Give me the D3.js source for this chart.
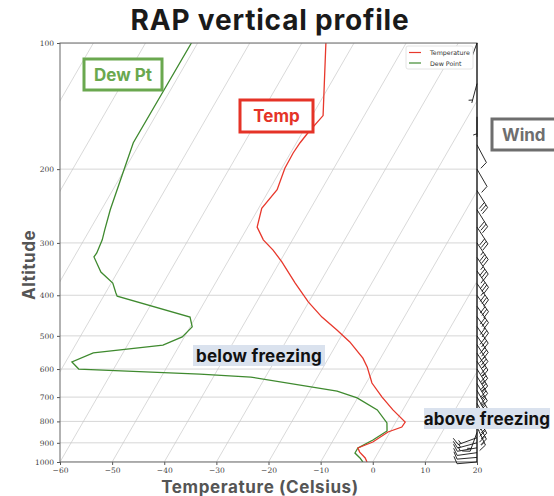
<!DOCTYPE html>
<html>
<head>
<meta charset="utf-8">
<script src="https://cdn.jsdelivr.net/npm/d3@7"></script>
<style>
  body { margin: 0; background: #fff; }
  svg { display: block; }
</style>
</head>
<body>
<svg width="554" height="496"></svg>
<script>
// sounding values (pressure in hPa, temperature in C)
const tempP = [100, 149, 164, 173, 183, 199, 224, 248, 275, 295, 312, 333, 374, 415, 451, 484, 517, 565, 593, 627, 648, 700, 751, 803, 825, 848, 896, 926, 947, 978, 1000];
const tempC = [-55.4, -47.9, -48.9, -49.3, -49.5, -49.4, -48.5, -49.4, -48.2, -45.6, -42.6, -39.6, -34.7, -30.1, -25.8, -21.5, -17.7, -13.4, -11.6, -9.9, -8.9, -5.4, -1.9, 1.8, 1.7, -0.4, -2.2, -4.4, -3.6, -1.9, -1.1];

const dewP = [100, 173, 198, 250, 280, 295, 317, 324, 352, 374, 395, 402, 451, 476, 503, 526, 549, 577, 600, 617, 627, 677, 703, 751, 807, 843, 886, 926, 952, 978, 1000];
const dewC = [-81.2, -81.3, -80.2, -78.3, -77.1, -76.5, -76.1, -76.2, -73.2, -69.7, -68.0, -67.4, -51.1, -49.6, -50.4, -53.2, -65.7, -68.8, -66.7, -42.9, -32.8, -14.7, -10.1, -4.9, -1.6, -0.7, -2.4, -4.4, -4.4, -2.9, -1.9];

// wind barbs: direction the wind comes from (deg) and speed (kt)
const windP = [100, 125, 150, 175, 200, 225, 250, 275, 300, 325, 350, 375, 400, 425, 450, 475, 500, 525, 550, 575, 600, 625, 650, 675, 700, 725, 750, 775, 800, 825, 850, 875, 900, 925, 950, 975, 1000];
const windDir = [200, 195, 180, 152, 150, 148, 148, 147, 146, 146, 145, 145, 145, 145, 145, 146, 146, 147, 147, 148, 148, 148, 149, 150, 150, 150, 151, 151, 152, 155, 200, 250, 255, 260, 262, 265, 265];
const windSpd = [5, 5, 5, 10, 10, 30, 30, 30, 35, 35, 35, 35, 30, 30, 30, 30, 30, 30, 25, 25, 25, 25, 25, 25, 20, 20, 20, 20, 20, 15, 15, 15, 15, 15, 10, 10, 10];

const pressureTicks = [100, 200, 300, 400, 500, 600, 700, 800, 900, 1000];
const tempTicks = [-60, -50, -40, -30, -20, -10, 0, 10, 20];
const isotherms = d3.range(-140, 21, 10);

const svg = d3.select('svg');
const pLeft = 60, pRight = 477, pTop = 43, pBottom = 462;

const x = d3.scaleLinear().domain([-60, 20]).range([pLeft, pRight]);
const y = d3.scaleLog().domain([100, 1000]).range([pTop, pBottom]);
const skew = Math.tan(30 * Math.PI / 180);
// skewed x position for a temperature at a pressure
const sx = (t, p) => x(t) + (pBottom - y(p)) * skew;

svg.append('clipPath').attr('id', 'plot')
  .append('rect').attr('x', pLeft).attr('y', pTop)
  .attr('width', pRight - pLeft).attr('height', pBottom - pTop);

const grid = svg.append('g').attr('clip-path', 'url(#plot)');

// horizontal pressure lines
grid.selectAll('.hline').data(pressureTicks).enter()
  .append('line')
  .attr('x1', pLeft).attr('x2', pRight)
  .attr('y1', d => y(d)).attr('y2', d => y(d))
  .attr('stroke', '#d6d6d6').attr('stroke-width', 1);

// skewed isotherms
grid.selectAll('.iso').data(isotherms).enter()
  .append('line')
  .attr('x1', d => sx(d, 1000)).attr('y1', y(1000))
  .attr('x2', d => sx(d, 100)).attr('y2', y(100))
  .attr('stroke', '#c8c8c8').attr('stroke-width', 0.7);

const line = d3.line().x(d => sx(d[1], d[0])).y(d => y(d[0]));

grid.append('path')
  .datum(dewP.map((p, i) => [p, dewC[i]]))
  .attr('d', line)
  .attr('fill', 'none').attr('stroke', '#3f8a2f').attr('stroke-width', 1.3);

grid.append('path')
  .datum(tempP.map((p, i) => [p, tempC[i]]))
  .attr('d', line)
  .attr('fill', 'none').attr('stroke', '#e8382c').attr('stroke-width', 1.3);

// axes
const fmt = d => d < 0 ? '\u2212' + Math.abs(d) : String(d);

const yAxis = svg.append('g')
  .attr('transform', `translate(${pLeft},0)`)
  .call(d3.axisLeft(y).tickValues(pressureTicks).tickFormat(d3.format('d')).tickSize(3).tickPadding(3));

const xAxis = svg.append('g')
  .attr('transform', `translate(0,${pBottom})`)
  .call(d3.axisBottom(x).tickValues(tempTicks).tickFormat(fmt).tickSize(3).tickPadding(3));

[yAxis, xAxis].forEach(a => {
  a.select('.domain').remove();
  a.selectAll('.tick line').attr('stroke', '#555');
  a.selectAll('.tick text')
    .attr('fill', '#444')
    .style('font-family', '"DejaVu Serif", "Liberation Serif", serif')
    .style('font-size', '7.5px');
});

// frame
svg.append('rect')
  .attr('x', pLeft).attr('y', pTop)
  .attr('width', pRight - pLeft).attr('height', pBottom - pTop)
  .attr('fill', 'none').attr('stroke', '#666').attr('stroke-width', 1);
svg.append('line')
  .attr('x1', pRight).attr('x2', pRight).attr('y1', pTop).attr('y2', pBottom)
  .attr('stroke', '#222').attr('stroke-width', 1.2);

// wind barbs along the right edge
const L = 20;
function barb(dir, spd) {
  const a = dir * Math.PI / 180;
  const s = [Math.sin(a), -Math.cos(a)];
  const n = [-s[1], s[0]];
  const v = Math.round(spd / 5) * 5;
  const full = Math.floor(v / 10);
  const half = v % 10 >= 5;
  let d = `M0,0L${s[0] * L},${s[1] * L}`;
  let pos = L;
  const step = 0.15 * L;
  for (let k = 0; k < full; k++) {
    const px = s[0] * pos, py = s[1] * pos;
    d += `M${px},${py}L${px + n[0] * 0.38 * L + s[0] * 0.125 * L},${py + n[1] * 0.38 * L + s[1] * 0.125 * L}`;
    pos -= step;
  }
  if (half) {
    if (full === 0) pos -= step;
    const px = s[0] * pos, py = s[1] * pos;
    d += `M${px},${py}L${px + n[0] * 0.19 * L + s[0] * 0.0625 * L},${py + n[1] * 0.19 * L + s[1] * 0.0625 * L}`;
  }
  return d;
}

svg.append('g').selectAll('path').data(windP).enter()
  .append('path')
  .attr('transform', p => `translate(${pRight},${y(p)})`)
  .attr('d', (p, i) => barb(windDir[i], windSpd[i]))
  .attr('fill', 'none').attr('stroke', '#111').attr('stroke-width', 0.9);

// legend
const legend = svg.append('g');
legend.append('rect')
  .attr('x', 406).attr('y', 46).attr('width', 67).attr('height', 23).attr('rx', 2)
  .attr('fill', '#fff').attr('stroke', '#ddd').attr('stroke-width', 0.8);
const legItems = [['Temperature', '#e8382c'], ['Dew Point', '#3f8a2f']];
legItems.forEach((it, i) => {
  legend.append('line')
    .attr('x1', 409).attr('x2', 421).attr('y1', 52.5 + i * 10.5).attr('y2', 52.5 + i * 10.5)
    .attr('stroke', it[1]).attr('stroke-width', 1.2);
  legend.append('text')
    .attr('x', 430).attr('y', 55 + i * 10.5)
    .attr('fill', '#333')
    .style('font-family', '"DejaVu Sans", sans-serif').style('font-size', '6.3px')
    .text(it[0]);
});

const bold = 'Inter, "Noto Sans", "DejaVu Sans", sans-serif';

// title and axis names
svg.append('text')
  .attr('x', 270).attr('y', 30).attr('text-anchor', 'middle')
  .attr('fill', '#1a1a1a')
  .style('font-family', bold).style('font-weight', 700).style('font-size', '28px')
  .style('letter-spacing', '0.8px')
  .text('RAP vertical profile');

svg.append('text')
  .attr('transform', 'translate(35,265) rotate(-90)').attr('text-anchor', 'middle')
  .attr('fill', '#555')
  .style('font-family', bold).style('font-weight', 700).style('font-size', '17px')
  .style('letter-spacing', '0.5px')
  .text('Altitude');

svg.append('text')
  .attr('x', 260).attr('y', 493).attr('text-anchor', 'middle')
  .attr('fill', '#555')
  .style('font-family', bold).style('font-weight', 700).style('font-size', '17px')
  .style('letter-spacing', '0.6px')
  .text('Temperature (Celsius)');

// callout boxes
const callouts = [
  { text: 'Dew Pt', x: 84, y: 59, w: 78, h: 31, color: '#6aa84f' },
  { text: 'Temp', x: 240, y: 100, w: 73, h: 32, color: '#e53327' },
  { text: 'Wind', x: 492, y: 119, w: 70, h: 31, color: '#6e6e6e' }
];
callouts.forEach(c => {
  svg.append('rect')
    .attr('x', c.x).attr('y', c.y).attr('width', c.w).attr('height', c.h)
    .attr('fill', '#fff').attr('stroke', c.color).attr('stroke-width', 3);
  svg.append('text')
    .attr('x', c.x + (c.text === 'Wind' ? 10 : c.w / 2)).attr('y', c.y + c.h / 2 + 6)
    .attr('text-anchor', c.text === 'Wind' ? 'start' : 'middle')
    .attr('fill', c.color)
    .style('font-family', bold).style('font-weight', 700).style('font-size', '17px')
    .text(c.text);
});

// highlighted notes
const notes = [
  { text: 'below freezing', x: 193, y: 345, w: 132, h: 21 },
  { text: 'above freezing', x: 424, y: 408, w: 126, h: 21 }
];
notes.forEach(n => {
  svg.append('rect')
    .attr('x', n.x).attr('y', n.y).attr('width', n.w).attr('height', n.h)
    .attr('fill', '#dae2ee');
  svg.append('text')
    .attr('x', n.x + n.w / 2).attr('y', n.y + n.h / 2 + 6).attr('text-anchor', 'middle')
    .attr('fill', '#111')
    .style('font-family', bold).style('font-weight', 700).style('font-size', '17px')
    .style('letter-spacing', '0.2px')
    .text(n.text);
});
</script>
</body>
</html>
